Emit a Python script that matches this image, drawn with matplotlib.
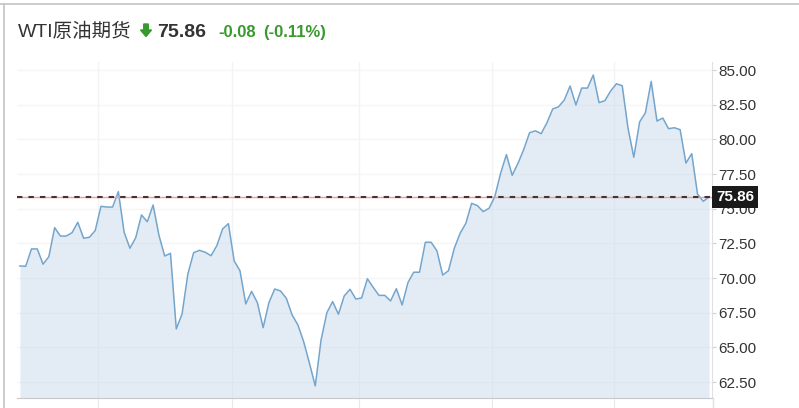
import numpy as np
import matplotlib.pyplot as plt
from matplotlib.lines import Line2D
from matplotlib.patches import FancyArrow
from matplotlib.transforms import IdentityTransform

plt.rcParams['font.family'] = ['Liberation Sans', 'Noto Sans CJK SC', 'DejaVu Sans']

title = 'WTI原油期货'
last_price = 75.86
change_txt = '-0.08'
change_pct_txt = '(-0.11%)'

prices = [70.87, 70.85, 72.10, 72.10, 71.00, 71.54, 73.63, 73.03, 73.03, 73.27,
          74.02, 72.87, 72.94, 73.42, 75.17, 75.12, 75.12, 76.23, 73.30, 72.15,
          72.91, 74.55, 74.06, 75.27, 73.10, 71.59, 71.78, 66.33, 67.41, 70.29,
          71.83, 72.00, 71.86, 71.61, 72.33, 73.54, 73.92, 71.23, 70.53, 68.13,
          69.04, 68.23, 66.42, 68.23, 69.21, 69.07, 68.54, 67.34, 66.62, 65.41,
          63.85, 62.22, 65.53, 67.50, 68.30, 67.39, 68.71, 69.19, 68.49, 68.56,
          69.95, 69.33, 68.75, 68.75, 68.35, 69.23, 68.06, 69.67, 70.42, 70.42,
          72.58, 72.58, 71.97, 70.22, 70.53, 72.14, 73.22, 73.95, 75.39, 75.22,
          74.79, 75.03, 75.87, 77.55, 78.90, 77.41, 78.27, 79.28, 80.48, 80.62,
          80.41, 81.20, 82.19, 82.35, 82.84, 83.85, 82.48, 83.70, 83.70, 84.64,
          82.65, 82.79, 83.49, 84.01, 83.87, 80.80, 78.71, 81.25, 81.92, 84.18,
          81.32, 81.54, 80.77, 80.84, 80.70, 78.29, 78.97, 76.06, 75.53, 75.86]
month_lines = [13.5, 36.6, 58.5, 81.5, 102.6]
y_ticks = np.arange(62.5, 85.01, 2.5)

green = '#38992c'
W, H = 799, 408
fig = plt.figure(figsize=(W / 100, H / 100), dpi=100)
ax = fig.add_axes([17 / W, 10 / H, (712 - 17) / W, (398 - 62) / H])

x = np.arange(len(prices))
ax.set_xlim(-0.5, len(prices) - 0.5)
ax.set_ylim(61.35, 85.58)

# grid, very faint
for v in y_ticks:
    ax.axhline(v, color='#f5f5f5', lw=1, zorder=0)
for m in month_lines:
    ax.axvline(m, color='#f1f3f6', lw=1, zorder=0)

ax.fill_between(x, prices, 61.35, color='#c8dbec', alpha=0.5, lw=0, zorder=1)
ax.plot(x, prices, color='#74a5cc', lw=1.1, zorder=2)

ax.axhline(last_price, color='#e8a0a0', lw=1, zorder=3)
ax.axhline(last_price, color='#4a3232', lw=1.5, dashes=(2.6, 2.9), zorder=4)

ax.annotate(f'{last_price:.2f}', xy=(1, last_price), xycoords=('axes fraction', 'data'),
            xytext=(4, 0), textcoords='offset pixels', va='center', ha='left',
            color='white', fontsize=11, fontweight='bold', annotation_clip=False, zorder=10,
            bbox=dict(boxstyle='square,pad=0.25', fc='#1a1a1a', ec='none'))

ax.yaxis.tick_right()
ax.set_yticks(y_ticks)
ax.set_yticklabels([f'{v:.2f}' for v in y_ticks])
ax.tick_params(axis='y', length=3, color='#d0d0d0', pad=1.5, labelsize=11, labelcolor='#333333')
ax.set_xticks(month_lines)
ax.set_xticklabels([])
ax.tick_params(axis='x', length=7.5, color='#e8e8e8')

for s in ['top', 'left']:
    ax.spines[s].set_visible(False)
ax.spines['bottom'].set_color('#c8c8c8')
ax.spines['right'].set_color('#e0e0e0')

# outer frame
fig.add_artist(Line2D([0, 1], [1 - 4 / H] * 2, color='#c4c4c4', lw=1.2))
fig.add_artist(Line2D([4 / W] * 2, [0, 1 - 4 / H], color='#c4c4c4', lw=1.2))
fig.add_artist(Line2D([712.5 / W] * 2, [0, 10 / H], color='#e0e0e0', lw=1))

# header
base = (H - 37) / H
fig.text(18 / W, base, title, fontsize=14, color='#333333', va='baseline')
fig.add_artist(FancyArrow(146, H - 24, 0, -12.5, width=4.5, head_width=11, head_length=6.5,
                          length_includes_head=True, color=green, transform=IdentityTransform()))
fig.text(157 / W, base, f'{last_price:.2f}', fontsize=14, fontweight='bold', color='#333333', va='baseline')
fig.text(218 / W, base, change_txt, fontsize=12, fontweight='bold', color=green, va='baseline')
fig.text(263 / W, base, change_pct_txt, fontsize=12, fontweight='bold', color=green, va='baseline')

plt.savefig('out.png', dpi=100)
